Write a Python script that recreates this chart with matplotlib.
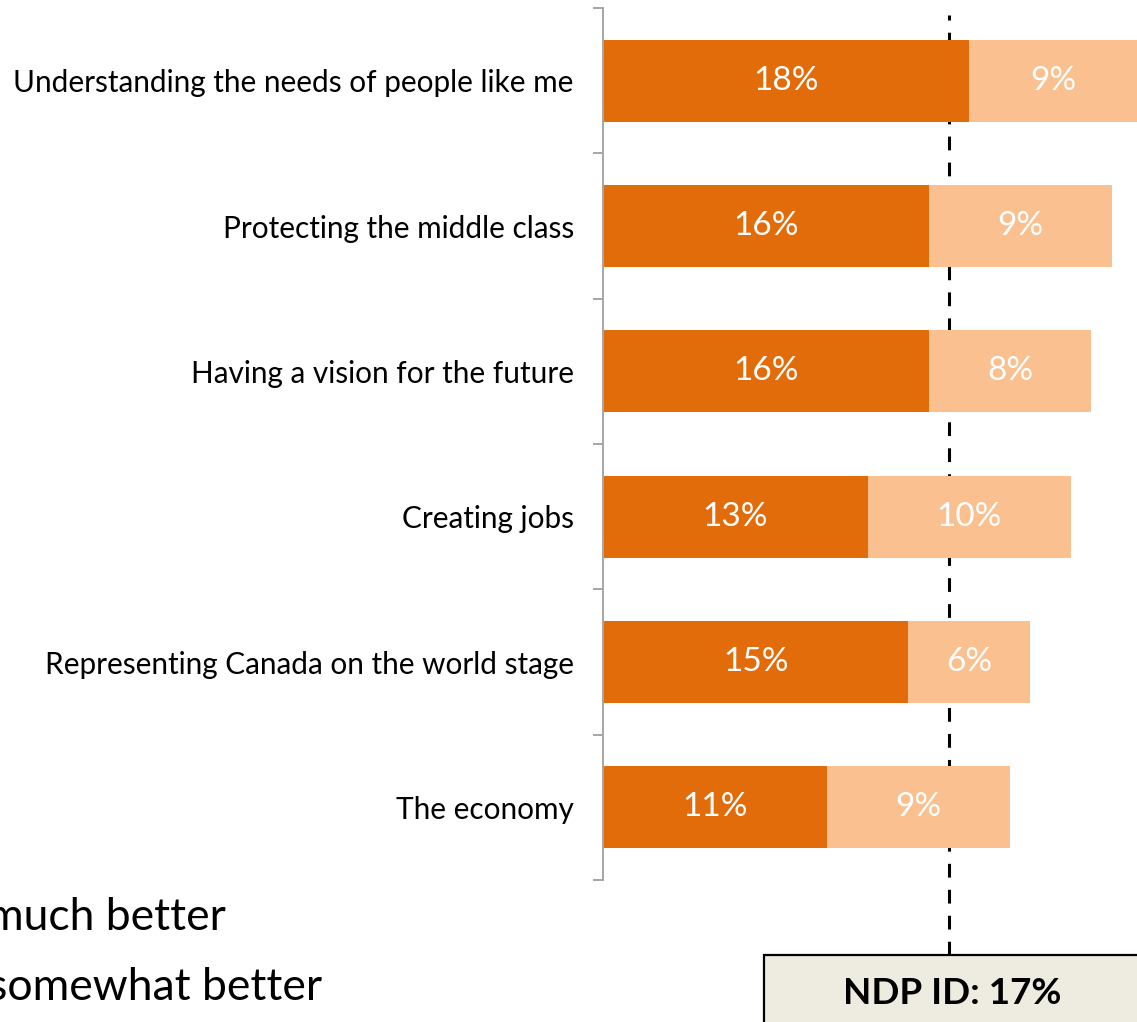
import numpy as np
import matplotlib.pyplot as plt
from matplotlib.patches import Rectangle

plt.rcParams['font.family'] = ['Lato', 'DejaVu Sans']

# data
categories = [
    'Understanding the needs of people like me',
    'Protecting the middle class',
    'Having a vision for the future',
    'Creating jobs',
    'Representing Canada on the world stage',
    'The economy',
]
much_better = [18, 16, 16, 13, 15, 11]
somewhat_better = [9, 9, 8, 10, 6, 9]
ndp_id = 17

dark = '#E36C0A'
light = '#FAC090'

fig = plt.figure(figsize=(11.37, 10.22), dpi=100)
ax = fig.add_axes([603 / 1137, 1 - 880 / 1022, 1 - 603 / 1137, 872 / 1022])

y = np.arange(len(categories))
b1 = ax.barh(y, much_better, height=0.565, color=dark, zorder=2)
b2 = ax.barh(y, somewhat_better, left=much_better, height=0.565, color=light, zorder=2)
ax.bar_label(b1, labels=[f'{v}%' for v in much_better], label_type='center',
             color='white', fontsize=24)
ax.bar_label(b2, labels=[f'{v}%' for v in somewhat_better], label_type='center',
             color='white', fontsize=24)

ax.set_xlim(0, 534 / 20.35)
ax.set_ylim(len(categories) - 0.5, -0.5)

ax.set_yticks(y)
ax.set_yticklabels(categories, fontsize=21.4)
ax.set_yticks(np.arange(len(categories) + 1) - 0.5, minor=True)
ax.tick_params(axis='y', which='major', length=0, pad=21)
ax.tick_params(axis='y', which='minor', length=7.5, width=1.4, color='#A6A6A6')
ax.set_xticks([])
for s in ['top', 'right', 'bottom']:
    ax.spines[s].set_visible(False)
ax.spines['left'].set_color('#A6A6A6')
ax.spines['left'].set_linewidth(1.4)

# NDP ID reference line, behind the bars, runs down to the box
ax.axvline(ndp_id, ymin=-0.086, ymax=0.992, color='black', lw=2.2,
           linestyle=(0, (4.5, 4)), clip_on=False, zorder=1)

# box with the NDP ID number (cut off at the figure edge)
fig.patches.append(Rectangle((764 / 1137, -0.05), 0.5, 0.05 + 1 - 955 / 1022,
                             transform=fig.transFigure, facecolor='#EEEBE0',
                             edgecolor='black', lw=1.6, zorder=4))
fig.text(952 / 1137, 1 - 993 / 1022, f'NDP ID: {ndp_id}%', ha='center', va='center',
         fontsize=26.5, fontweight='bold', zorder=5)

# legend text, partially off the left edge
fig.text(226 / 1137, 1 - 917 / 1022, 'much better', ha='right', va='center', fontsize=32)
fig.text(322 / 1137, 1 - 988 / 1022, 'somewhat better', ha='right', va='center', fontsize=32)

fig.savefig('out.png', dpi=100)
